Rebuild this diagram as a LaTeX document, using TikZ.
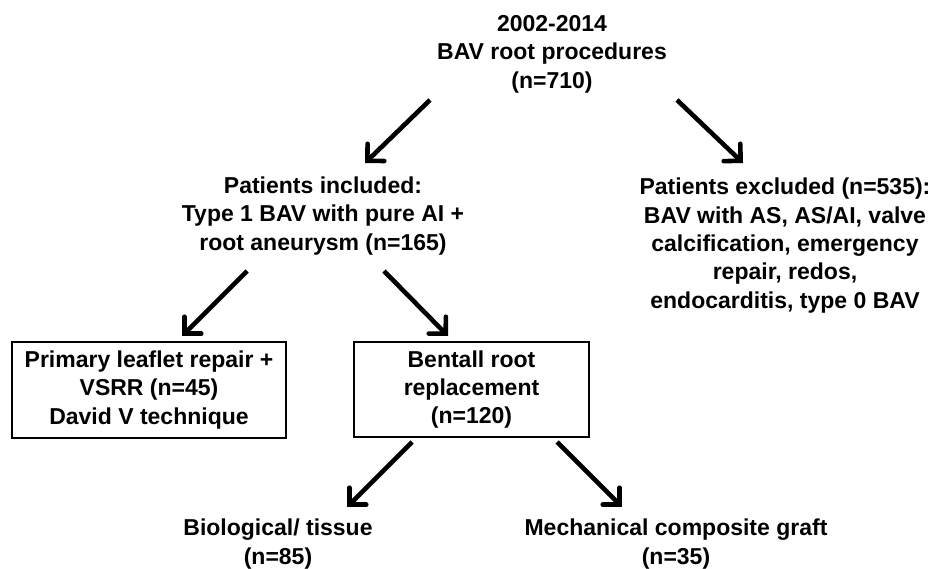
\documentclass[tikz,border=0pt]{standalone}
\usepackage{fontspec}
\setmainfont{Liberation Sans}
\usetikzlibrary{arrows.meta}

\begin{document}
\begin{tikzpicture}[x=1pt, y=-1pt,
  label text/.style={align=center, inner sep=0pt,
    font=\fontsize{23}{28.3}\selectfont\bfseries},
  stage box/.style={label text, draw, line width=2.2pt},
  flow/.style={line width=4.6pt,
    -{Straight Barb[length=12pt, width=24pt, line cap=round, line join=miter]}}
]
  % canvas
  \useasboundingbox (0,0) rectangle (931,569);

  % text blocks
  \node[label text] (total) at (552,54.3)
    {2002-2014\\BAV root procedures\\(n=710)};
  \node[label text] (incl) at (323,215.8)
    {Patients included:\\Type 1 BAV with pure AI +\\root aneurysm (n=165)};
  \node[label text] (excl) at (785,245.5)
    {Patients excluded (n=535):\\BAV with AS, AS/AI, valve\\calcification, emergency\\repair, redos,\\endocarditis, type 0 BAV};

  % treatment boxes
  \node[stage box, minimum width=274pt, minimum height=96pt] (david) at (149,390)
    {Primary leaflet repair +\\VSRR (n=45)\\David V technique};
  \node[stage box, minimum width=235pt, minimum height=95pt] (bentall) at (471.5,389.5)
    {Bentall root\\replacement\\(n=120)};

  % graft types
  \node[label text] (bio) at (278,544) {Biological/ tissue\\(n=85)};
  \node[label text] (mech) at (676,544) {Mechanical composite graft\\(n=35)};

  % arrow end points
  \coordinate (total-l) at (430,100);
  \coordinate (total-r) at (677,100);
  \coordinate (incl-in) at (365,163);
  \coordinate (excl-in) at (743,163);
  \coordinate (incl-l) at (247,271);
  \coordinate (incl-r) at (384,271);
  \coordinate (david-in) at (182,336);
  \coordinate (bentall-in) at (448,336);
  \coordinate (bentall-l) at (412,442);
  \coordinate (bentall-r) at (557,442);
  \coordinate (bio-in) at (347,507);
  \coordinate (mech-in) at (622,507);

  % arrows
  \draw[flow] (total-l) -- (incl-in);
  \draw[flow] (total-r) -- (excl-in);
  \draw[flow] (incl-l) -- (david-in);
  \draw[flow] (incl-r) -- (bentall-in);
  \draw[flow] (bentall-l) -- (bio-in);
  \draw[flow] (bentall-r) -- (mech-in);
\end{tikzpicture}
\end{document}
